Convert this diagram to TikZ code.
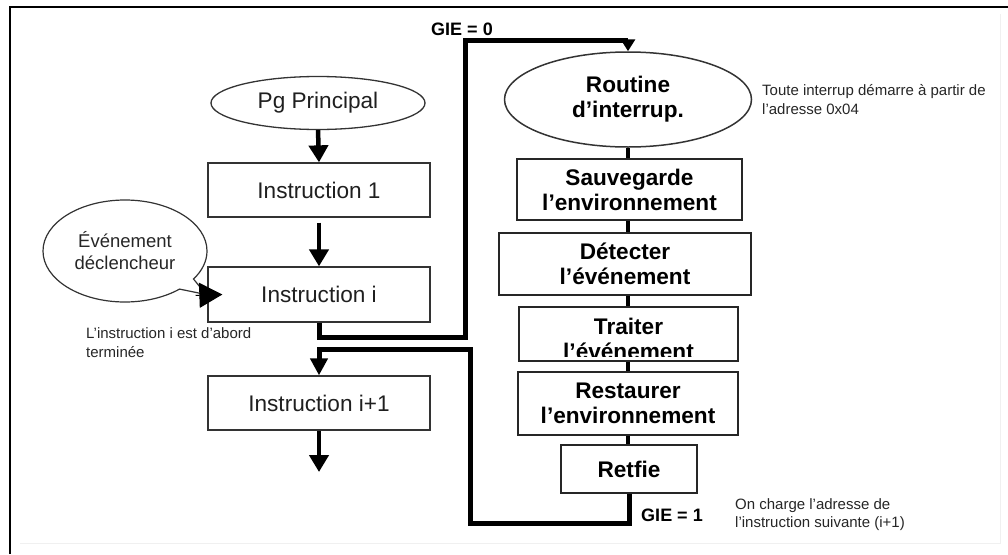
\documentclass[tikz,border=0pt]{standalone}
\usepackage{fontspec}
\setmainfont{Liberation Sans}
\usetikzlibrary{arrows.meta,shapes.geometric,shapes.callouts,calc}
\begin{document}
\begin{tikzpicture}[x=1pt,y=-1pt,
  lbox/.style={draw=black!80, line width=1.3pt, rectangle, inner sep=0pt, minimum width=222pt, minimum height=54pt, font=\fontsize{22.6}{26}\selectfont, text=black!88},
  rbox/.style={draw=black!85, line width=1.8pt, rectangle, inner sep=0pt, align=center, font=\bfseries\fontsize{22.6}{25}\selectfont, text=black},
  note/.style={inner sep=0pt, align=left, font=\fontsize{15}{18.5}\selectfont, text=black!85},
  gie/.style={inner sep=0pt, font=\bfseries\fontsize{18}{20}\selectfont, text=black},
  arr/.style={line width=4.5pt, -{Triangle[length=17pt,width=19pt]}},
  link/.style={line width=4pt},
  route/.style={line width=5pt, line join=miter},
]
\useasboundingbox (0,0) rectangle (1008,554);
% frame
\draw[black!6, line width=1pt] (20,543) -- (1000,543) -- (1000,14);
\draw[line width=2.6pt] (10,554) -- (10,7) -- (1008,7);

% left column
\node[ellipse, draw=black!80, line width=1.3pt, inner sep=0pt, minimum width=214pt, minimum height=53pt, font=\fontsize{22.6}{26}\selectfont, text=black!88] (pg) at (318,103) {Pg Principal};
\node[lbox] (ins1) at (319,190) {Instruction 1};
\node[lbox, minimum height=55pt] (insi) at (319,294.5) {Instruction i};
\node[lbox] (insi1) at (319,403) {Instruction i+1};
\coordinate (fin) at (319,472);

\node[ellipse callout, draw=black!80, line width=1.2pt, inner sep=0pt, minimum width=164pt, minimum height=102pt, align=center, font=\fontsize{18.5}{22}\selectfont, text=black!85, callout absolute pointer={(206,294.5)}] (ev) at (125,251) {Événement\\déclencheur};

\draw[arr] (pg.south) -- (ins1.north);
\draw[arr] ([yshift=-5pt]ins1.south) -- (insi.north);
\draw[arr] (insi1.south) -- (fin);
\draw[line width=1pt, -{Triangle[length=23pt,width=25pt]}] ([xshift=-12pt]ev.pointer) -- ([xshift=15pt]insi.west);

\node[note, anchor=west] (term) at (86,342.5) {L’instruction i est d’abord\\terminée};

% right column
\node[ellipse, draw=black!80, line width=1.5pt, inner sep=0pt, minimum width=247pt, minimum height=95pt, align=center, font=\bfseries\fontsize{22.6}{25}\selectfont] (rt) at (628,99.5) {Routine\\d’interrup.};
\node[rbox, minimum width=225pt, minimum height=61pt] (sv) at (629.5,189.5) {Sauvegarde\\l’environnement};
\node[rbox, minimum width=252pt, minimum height=62pt] (dt) at (625,264) {Détecter\\l’événement};
\node[rbox, minimum width=219pt, minimum height=54pt] (tr) at (628.5,334) {};
\begin{scope}
  \clip (519,300) rectangle (738,356);
  \node[rbox, draw=none] (trtext) at ([yshift=-5.25pt]tr.center) {Traiter\\l’événement};
\end{scope}
\node[rbox, minimum width=220pt, minimum height=63pt] (rs) at (628,403.5) {Restaurer\\l’environnement};
\node[rbox, minimum width=136pt, minimum height=48pt] (rf) at (629,469) {Retfie};

\draw[link] (rt.south) -- (rt.south |- sv.north);
\draw[link] (rt.south |- sv.south) -- (rt.south |- dt.north);
\draw[link] (rt.south |- dt.south) -- (rt.south |- tr.north);
\draw[link] (rt.south |- tr.south) -- (rt.south |- rs.north);
\draw[link] (rt.south |- rs.south) -- (rt.south |- rf.north);

\node[note, anchor=west] (tnote) at (762,99.5) {Toute interrup démarre à partir de\\l’adresse 0x04};
\node[note, anchor=west] (cnote) at (735,514.5) {On charge l’adresse de\\l’instruction suivante (i+1)};

% routes
\coordinate (a1) at (465,337);
\coordinate (a2) at (465,40);
\draw[route, -{Triangle[length=12pt,width=14pt]}] (insi.south) |- (a1) -- (a2) -| (rt.north);
\coordinate (b1) at (470,523);
\coordinate (b2) at (470,349);
\draw[route, -{Triangle[length=17pt,width=17pt]}] (rf.south) |- (b1) -- (b2) -| (insi1.north);

\node[gie] (g0) at (462,29) {GIE = 0};
\node[gie] (g1) at (672,515) {GIE = 1};
\end{tikzpicture}
\end{document}
